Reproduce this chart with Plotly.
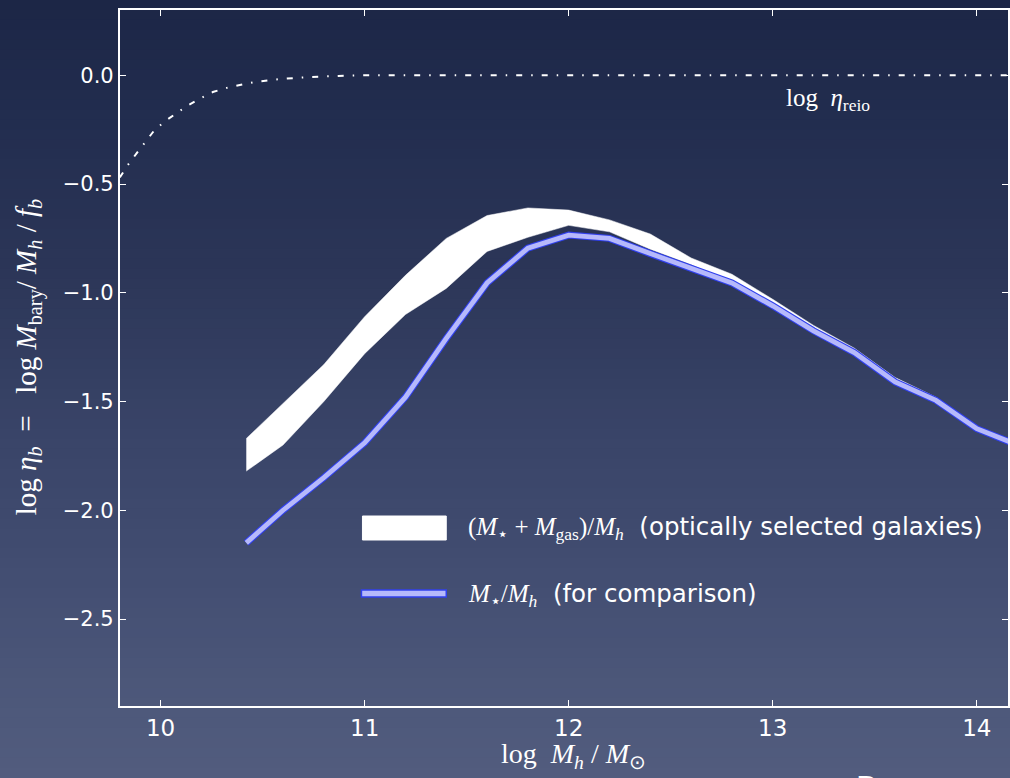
import plotly.graph_objects as go

# ---------------- data ----------------
reio_x = [9.80, 9.84, 9.884, 9.923, 9.967, 10.016, 10.07, 10.129, 10.19, 10.256,
          10.324, 10.388, 10.46, 10.59, 10.73, 10.87, 11.0, 11.5, 12.0, 13.0, 14.0, 14.16]
reio_y = [-0.47, -0.412, -0.357, -0.307, -0.256, -0.215, -0.178, -0.141, -0.109, -0.077,
          -0.058, -0.045, -0.031, -0.017, -0.008, -0.003, 0.0, 0.0, 0.0, 0.0, 0.0, 0.0]

band_x = [10.42, 10.6, 10.8, 11.0, 11.2, 11.4, 11.6, 11.8, 12.0, 12.2,
          12.4, 12.6, 12.8, 13.0, 13.2, 13.4, 13.6, 13.8, 14.0]
band_upper = [-1.67, -1.51, -1.33, -1.11, -0.92, -0.75, -0.645, -0.61, -0.62, -0.665,
              -0.73, -0.84, -0.915, -1.03, -1.15, -1.255, -1.39, -1.48, -1.625]
band_lower = [-1.82, -1.70, -1.50, -1.28, -1.10, -0.98, -0.81, -0.745, -0.69, -0.72,
              -0.80, -0.87, -0.95, -1.05, -1.17, -1.28, -1.41, -1.49, -1.625]

star_x = [10.42, 10.6, 10.8, 11.0, 11.2, 11.4, 11.6, 11.8, 12.0, 12.2,
          12.4, 12.6, 12.8, 13.0, 13.2, 13.4, 13.6, 13.8, 14.0, 14.2]
star_y = [-2.15, -2.00, -1.85, -1.69, -1.48, -1.21, -0.955, -0.795, -0.735, -0.75,
          -0.82, -0.885, -0.955, -1.06, -1.175, -1.275, -1.41, -1.495, -1.625, -1.70]

x_ticks = [10, 11, 12, 13, 14]
y_ticks = [0.0, -0.5, -1.0, -1.5, -2.0, -2.5]

# ---------------- layout geometry ----------------
W, H = 1010, 778
L, R, T, B = 120, 0, 10, 72
PW, PH = W - L - R, H - T - B


def px(xp):
    return (xp - L) / PW


def py(yp):
    return (H - B - yp) / PH


fig = go.Figure()

# background gradient bands
bg_stops = [(0, (28, 38, 70)), (120, (34, 45, 79)), (260, (43, 53, 87)),
            (420, (56, 67, 103)), (580, (67, 78, 114)), (700, (77, 88, 122)),
            (778, (82, 92, 126))]
shapes = []
nb = 78
for i in range(nb):
    y0 = i * H / nb
    y1 = (i + 1) * H / nb
    ym = (y0 + y1) / 2
    for j in range(len(bg_stops) - 1):
        a, ca = bg_stops[j]
        b, cb = bg_stops[j + 1]
        if a <= ym <= b:
            t = (ym - a) / (b - a)
            c = tuple(int(round(ca[k] + (cb[k] - ca[k]) * t)) for k in range(3))
            break
    shapes.append(dict(type="rect", xref="paper", yref="paper", layer="below",
                       x0=px(-5), x1=px(W + 5), y0=py(y1 + 0.5), y1=py(y0 - 0.5),
                       fillcolor="rgb(%d,%d,%d)" % c, line=dict(width=0)))

# white band
fig.add_trace(go.Scatter(x=band_x + band_x[::-1], y=band_upper + band_lower[::-1],
                         fill="toself", fillcolor="white", mode="lines",
                         line=dict(width=0.5, color="white"),
                         hoverinfo="skip", showlegend=False))
# stellar line (outline + fill)
fig.add_trace(go.Scatter(x=star_x, y=star_y, mode="lines",
                         line=dict(color="#3040ee", width=7), showlegend=False))
fig.add_trace(go.Scatter(x=star_x, y=star_y, mode="lines",
                         line=dict(color="#b6b9fb", width=4.8), showlegend=False))
# reionization dash-dot
fig.add_trace(go.Scatter(x=reio_x, y=reio_y, mode="lines",
                         line=dict(color="white", width=2, dash="6px,9px,1.5px,9px"),
                         showlegend=False))

# legend (manual)
shapes.append(dict(type="rect", xref="paper", yref="paper", x0=px(363), x1=px(447),
                   y0=py(540), y1=py(516), fillcolor="white", line=dict(width=1, color="white")))
shapes.append(dict(type="rect", xref="paper", yref="paper", x0=px(362), x1=px(447),
                   y0=py(597), y1=py(590), fillcolor="#b6b9fb",
                   line=dict(width=1.5, color="#3040ee")))

serif = "Liberation Serif"
sans = "DejaVu Sans"
annotations = [
    dict(text="(<i>M</i><sub>⋆</sub> + <i>M</i><sub>gas</sub>)/<i>M</i><sub><i>h</i></sub>"
              "<span style='font-family:DejaVu Sans;font-size:24.5px'>  (optically selected galaxies)</span>",
         x=px(467), y=py(528), xref="paper", yref="paper", xanchor="left", yanchor="middle",
         showarrow=False, font=dict(family=serif, size=25, color="white")),
    dict(text="<i>M</i><sub>⋆</sub>/<i>M</i><sub><i>h</i></sub>"
              "<span style='font-family:DejaVu Sans;font-size:24.5px'>  (for comparison)</span>",
         x=px(467), y=py(595), xref="paper", yref="paper", xanchor="left", yanchor="middle",
         showarrow=False, font=dict(family=serif, size=25, color="white")),
    dict(text="log  <i>η</i><sub>reio</sub>", x=px(830), y=py(100), xref="paper", yref="paper",
         xanchor="center", yanchor="middle", showarrow=False,
         font=dict(family=serif, size=25, color="white")),
    dict(text="log  <i>M</i><sub><i>h</i></sub> / <i>M</i><sub>⊙</sub>", x=px(575), y=py(755),
         xref="paper", yref="paper", xanchor="center", yanchor="middle", showarrow=False,
         font=dict(family=serif, size=28, color="white")),
    dict(text="log <i>η</i><sub><i>b</i></sub>  =   log <i>M</i><sub>bary</sub>/ <i>M</i><sub><i>h</i></sub> / <i>f</i><sub><i>b</i></sub>",
         x=px(28), y=py(357), xref="paper", yref="paper", xanchor="center", yanchor="middle",
         textangle=-90, showarrow=False, font=dict(family=serif, size=29, color="white")),
    dict(text="Papastergis et al.", x=px(855), y=py(761), xref="paper", yref="paper",
         xanchor="left", yanchor="top", showarrow=False,
         font=dict(family="Open Sans", size=38, color="white")),
]

fig.update_layout(
    width=W, height=H, margin=dict(l=L, r=R, t=T, b=B, pad=0),
    paper_bgcolor="rgb(40,50,84)", plot_bgcolor="rgba(0,0,0,0)",
    shapes=shapes, annotations=annotations, showlegend=False,
    xaxis=dict(range=[9.801, 14.153], tickvals=x_ticks, ticktext=[str(v) for v in x_ticks],
               ticks="inside", ticklen=6, tickwidth=1.2, tickcolor="white",
               showline=True, linecolor="white", linewidth=2.2, mirror="ticks",
               showgrid=False, zeroline=False,
               tickfont=dict(family=sans, size=23, color="white")),
    yaxis=dict(range=[-2.9, 0.3], tickvals=y_ticks, tickformat=".1f",
               ticks="inside", ticklen=6, tickwidth=1.2, tickcolor="white",
               showline=True, linecolor="white", linewidth=2.2, mirror="ticks",
               showgrid=False, zeroline=False,
               tickfont=dict(family=sans, size=21, color="white")),
)

fig.write_html("out.html")
